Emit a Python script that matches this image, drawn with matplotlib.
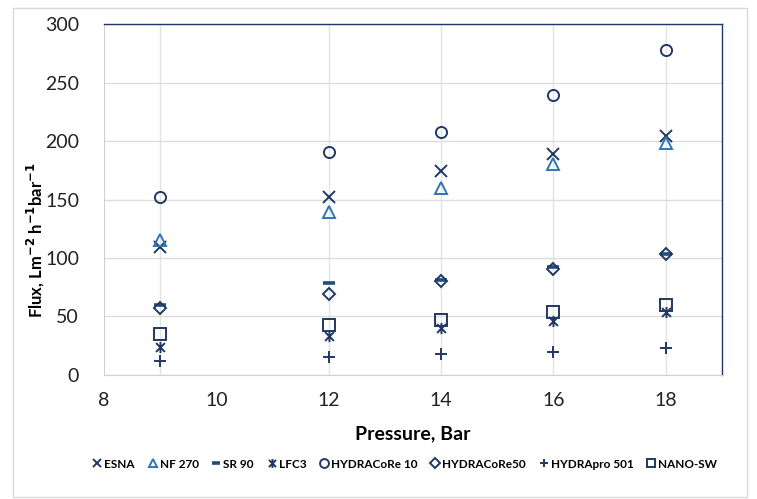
import matplotlib.pyplot as plt
from matplotlib.path import Path
from matplotlib.patches import Rectangle

plt.rcParams['font.family'] = ['Lato', 'DejaVu Sans']

pressure = [9, 12, 14, 16, 18]
esna = [109, 152, 174, 189, 204]
nf270 = [115, 139, 160, 180, 198]
sr90 = [60, 79, 81, 92, 103]
lfc3 = [24, 33, 40, 46, 54]
hydracore10 = [152, 191, 208, 239, 278]
hydracore50 = [57, 69, 80, 91, 103]
hydrapro501 = [12, 15, 18, 20, 23]
nano_sw = [35, 43, 47, 54, 60]

navy = '#203864'
blue = '#2E75B6'
mid = '#1F4E79'

# excel style star marker: x with a vertical stroke
star = Path([(-1, -1), (1, 1), (-1, 1), (1, -1), (0, -1.25), (0, 1.25)],
            [Path.MOVETO, Path.LINETO, Path.MOVETO, Path.LINETO, Path.MOVETO, Path.LINETO])

series = [
    ('ESNA', esna, 'x', navy, 8, 1.4),
    ('NF 270', nf270, '^', blue, 8, 1.4),
    ('SR 90', sr90, '_', mid, 8, 2.6),
    ('LFC3', lfc3, star, navy, 8, 1.4),
    ('HYDRACoRe 10', hydracore10, 'o', navy, 8, 1.4),
    ('HYDRACoRe50', hydracore50, 'D', navy, 6, 1.4),
    ('HYDRApro 501', hydrapro501, '+', navy, 8, 1.4),
    ('NANO-SW', nano_sw, 's', navy, 8, 1.4),
]

fig = plt.figure(figsize=(7.57, 4.99), dpi=100)
ax = fig.add_axes([0.1374, 0.2485, 0.9538 - 0.1374, 0.9519 - 0.2485])

for p in pressure:
    ax.axvline(p, color='#E3E3E3', lw=1, zorder=0)
ax.grid(axis='y', color='#DDDDDD', lw=1, zorder=0)

for name, vals, m, c, ms, mw in series:
    ax.plot(pressure, vals, linestyle='none', marker=m, ms=ms, mfc='none',
            mec=c, mew=mw, label=name, zorder=3)

ax.set_xlim(8, 19)
ax.set_ylim(0, 300)
ax.set_xticks([8, 10, 12, 14, 16, 18])
ax.set_yticks(range(0, 301, 50))
ax.tick_params(length=0, labelsize=14, colors='#222222')
ax.tick_params(axis='x', pad=12)
ax.tick_params(axis='y', pad=18)
ax.set_axisbelow(True)

for s in ['top', 'right']:
    ax.spines[s].set_color(navy)
    ax.spines[s].set_linewidth(1)
for s in ['left', 'bottom']:
    ax.spines[s].set_color('#D0D0D0')

ax.set_xlabel('Pressure, Bar', fontsize=14, fontweight='bold', labelpad=12)
ax.set_ylabel('Flux, Lm$^{\\mathbf{-2}}$ h$^{\\mathbf{-1}}$bar$^{\\mathbf{-1}}$',
              fontsize=12, fontweight='bold')
ax.yaxis.set_label_coords(-0.092, 0.385)

leg = fig.legend(loc='center', bbox_to_anchor=(0.535, 0.07), ncol=8, frameon=False,
                 prop={'size': 8.5, 'weight': 'bold'}, handlelength=0.8,
                 handletextpad=0.2, columnspacing=1.1, markerscale=0.8)

fig.patches.append(Rectangle((0.017, 0.004), 0.97, 0.98, transform=fig.transFigure,
                             fill=False, edgecolor='#D9D9D9', lw=1))

fig.savefig('out.png', dpi=100)
